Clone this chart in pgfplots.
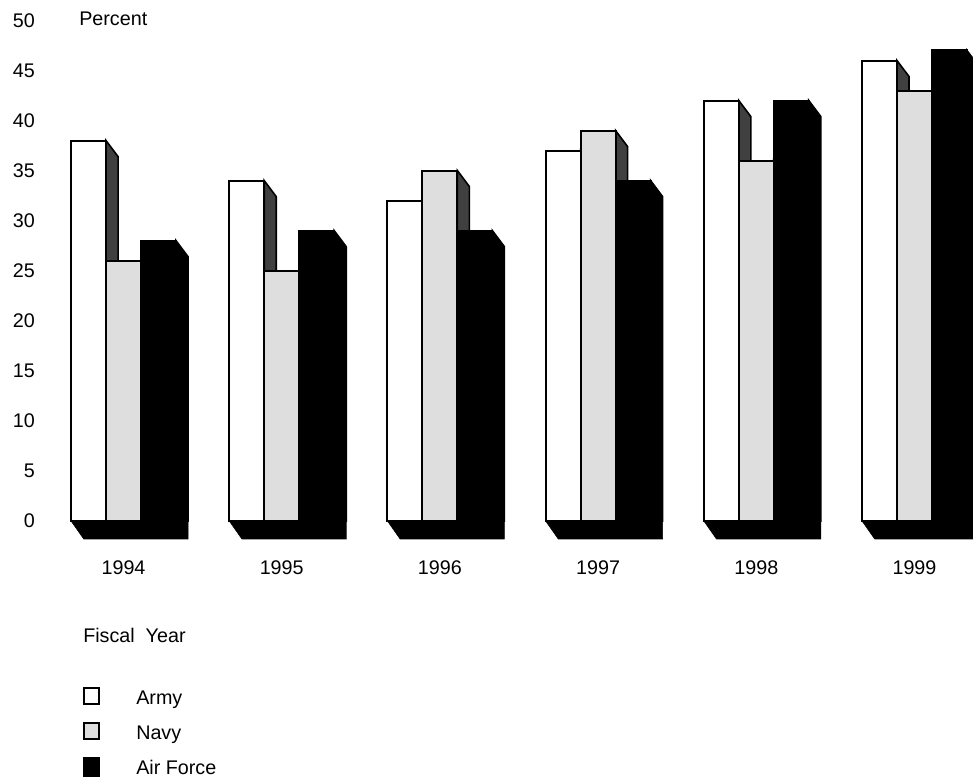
\documentclass[border=0pt]{standalone}
\usepackage{fontspec}
\setmainfont{Liberation Sans}
\usepackage{pgfplots}
\pgfplotsset{compat=1.18}
\definecolor{navyfront}{gray}{0.87}
\definecolor{sidedark}{gray}{0.25}
\newcommand{\fs}{\fontsize{14.8}{17}\selectfont}
% side face of a bar: center x, value, colour
\newcommand{\sideface}[3]{%
  \pgfmathsetmacro{\xa}{#1+0.1106}%
  \pgfmathsetmacro{\xb}{#1+0.1106+0.076}%
  \pgfmathsetmacro{\yb}{#2-1.6}%
  \addplot[forget plot, fill=#3, draw=black, line width=1.2pt] coordinates {(\xa,0) (\xa,#2) (\xb,\yb) (\xb,0)} -- cycle;%
}
% floor slab under a group: group centre
\newcommand{\floorslab}[1]{%
  \pgfmathsetmacro{\fa}{#1-0.3318}%
  \pgfmathsetmacro{\fb}{#1-0.3318+0.08}%
  \pgfmathsetmacro{\fc}{#1+0.3318+0.076}%
  \addplot[forget plot, fill=black, draw=black] coordinates {(\fa,0) (\fb,-1.8) (\fc,-1.8) (\fc,0)} -- cycle;%
}
\begin{document}
\begin{tikzpicture}
\useasboundingbox (0,0) rectangle (729.75pt,585.75pt);
\begin{axis}[
  at={(48.75pt,180pt)}, anchor=south west,
  scale only axis, width=681pt, height=390.4pt,
  xmin=-0.37, xmax=5.37, ymin=-2, ymax=50,
  ytick={0,5,...,50},
  xtick={0,1,2,3,4,5},
  xticklabels={1994,1995,1996,1997,1998,1999},
  axis line style={draw=none},
  major tick length=0pt,
  tick label style={font=\fs},
  /pgf/number format/assume math mode=true,
  yticklabel style={anchor=east, inner sep=0pt, xshift=-22.5pt},
  xticklabel style={anchor=base, inner sep=0pt, yshift=-25.5pt},
  clip=true,
]
% floors
\floorslab{0}\floorslab{1}\floorslab{2}\floorslab{3}\floorslab{4}\floorslab{5}
% Army
\sideface{-0.2212}{38}{sidedark}
\sideface{0.7788}{34}{sidedark}
\sideface{1.7788}{32}{sidedark}
\sideface{2.7788}{37}{sidedark}
\sideface{3.7788}{42}{sidedark}
\sideface{4.7788}{46}{sidedark}
\addplot[ybar, bar width=0.2212, bar shift=-0.2212, fill=white, draw=black, line width=1.5pt]
  coordinates {(0,38) (1,34) (2,32) (3,37) (4,42) (5,46)};
% Navy
\sideface{0}{26}{sidedark}
\sideface{1}{25}{sidedark}
\sideface{2}{35}{sidedark}
\sideface{3}{39}{sidedark}
\sideface{4}{36}{sidedark}
\sideface{5}{43}{sidedark}
\addplot[ybar, bar width=0.2212, bar shift=0, fill=navyfront, draw=black, line width=1.5pt]
  coordinates {(0,26) (1,25) (2,35) (3,39) (4,36) (5,43)};
% Air Force
\sideface{0.2212}{28}{black}
\sideface{1.2212}{29}{black}
\sideface{2.2212}{29}{black}
\sideface{3.2212}{34}{black}
\sideface{4.2212}{42}{black}
\sideface{5.2212}{47}{black}
\addplot[ybar, bar width=0.2212, bar shift=0.2212, fill=black, draw=black, line width=1.5pt]
  coordinates {(0,28) (1,29) (2,29) (3,34) (4,42) (5,47)};
\end{axis}
\node[anchor=base west, inner sep=0pt, font=\fs] at (59.25pt,566.25pt) {Percent};
\node[anchor=base west, inner sep=0pt, font=\fs] at (62.25pt,103.5pt) {Fiscal\ \ Year};
% legend
\draw[line width=1.5pt, fill=white] (63pt,57.5pt) rectangle (74.5pt,70pt);
\draw[line width=1.5pt, fill=navyfront] (63pt,31.25pt) rectangle (74.5pt,43.75pt);
\fill[black] (62.25pt,3pt) rectangle (75pt,18pt);
\node[anchor=base west, inner sep=0pt, font=\fs] at (102pt,57.75pt) {Army};
\node[anchor=base west, inner sep=0pt, font=\fs] at (102pt,31.5pt) {Navy};
\node[anchor=base west, inner sep=0pt, font=\fs] at (102pt,5.25pt) {Air Force};
\end{tikzpicture}
\end{document}
